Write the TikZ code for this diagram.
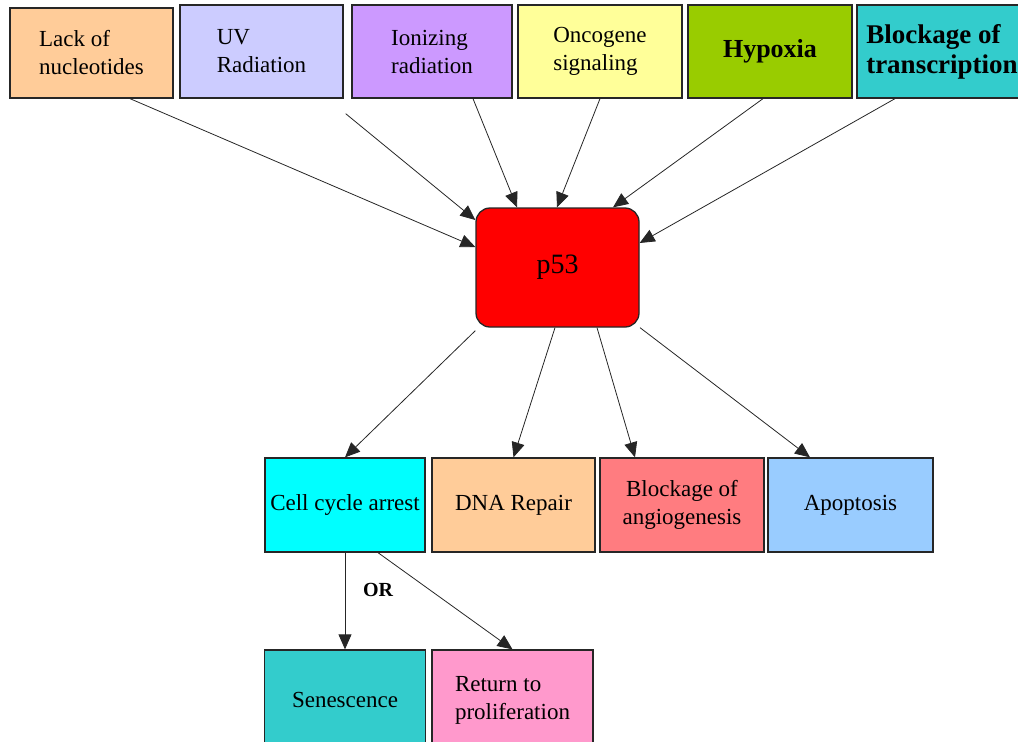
\documentclass[tikz,border=0pt]{standalone}
\usepackage{fontspec}
\setmainfont{Liberation Serif}
\usetikzlibrary{arrows.meta}
\definecolor{cpeach}{HTML}{FFCC99}
\definecolor{clav}{HTML}{CCCCFF}
\definecolor{cpurple}{HTML}{CC99FF}
\definecolor{cyellow}{HTML}{FFFF99}
\definecolor{cgreen}{HTML}{99CC00}
\definecolor{cteal}{HTML}{33CCCC}
\definecolor{cred}{HTML}{FF0000}
\definecolor{ccyan}{HTML}{00FFFF}
\definecolor{csalmon}{HTML}{FF7C80}
\definecolor{cblue}{HTML}{99CCFF}
\definecolor{cpink}{HTML}{FF99CC}
\begin{document}
\begin{tikzpicture}[x=1pt,y=-1pt,
  box/.style={draw=black!85, line width=1.3pt, inner sep=0pt, align=left,
    font=\fontsize{23}{28}\selectfont},
  topbox/.style={box, minimum height=93pt},
  midbox/.style={box, minimum height=94pt, align=center},
  arr/.style={draw=black!85, line width=0.8pt, -{Triangle[length=15pt,width=13pt]}},
  lbl/.style={font=\bfseries\fontsize{20}{22}\selectfont}]
\useasboundingbox (0,0) rectangle (1018,742);
\clip (0,0) rectangle (1018,742);
% top row
\node[topbox, fill=cpeach, minimum width=163pt, minimum height=90pt] (lack) at (91.5,53) {Lack of\\nucleotides};
\node[topbox, fill=clav, minimum width=163pt] (uv) at (261.5,51.5) {UV\\Radiation};
\node[topbox, fill=cpurple, minimum width=160pt] (ion) at (432,51.5) {Ionizing\\radiation};
\node[topbox, fill=cyellow, minimum width=164pt] (onc) at (600,51.5) {Oncogene\\signaling};
\node[topbox, fill=cgreen, minimum width=164pt, font=\bfseries\fontsize{26}{28}\selectfont] (hyp) at (770,51.5) {Hypoxia};
\node[topbox, fill=cteal, minimum width=170pt, font=\bfseries\fontsize{27}{30}\selectfont, align=left] (blk) at (942,51.5) {Blockage of\\transcription};
% p53
\node[draw=black!85, line width=1.3pt, fill=cred, rounded corners=14pt, minimum width=163pt, minimum height=119pt, inner sep=0pt, font=\fontsize{28}{30}\selectfont] (p53) at (557.5,267.5) {p53};
% middle row
\node[midbox, fill=ccyan, minimum width=160pt] (cca) at (345,505) {Cell cycle arrest};
\node[midbox, fill=cpeach, minimum width=163pt] (dna) at (513.5,505) {DNA Repair};
\node[midbox, fill=csalmon, minimum width=164pt] (ang) at (682,505) {Blockage of\\angiogenesis};
\node[midbox, fill=cblue, minimum width=165pt] (apo) at (850.5,505) {Apoptosis};
% bottom row
\node[box, fill=cteal, minimum width=161pt, minimum height=100pt] (sen) at (345,700) {Senescence};
\node[box, fill=cpink, minimum width=161pt, minimum height=100pt] (ret) at (512.5,700) {Return to\\proliferation};
% inputs to p53
\draw[arr] ([xshift=38.5pt]lack.south) -- ([yshift=20.5pt]p53.west);
\draw[arr] ([shift={(2pt,-15pt)}]uv.south east) -- ([yshift=47.5pt]p53.west);
\draw[arr] ([xshift=41pt]ion.south) -- ([xshift=-40.5pt]p53.north);
\draw[arr] (onc.south) -- ([xshift=-0.5pt]p53.north);
\draw[arr] ([xshift=-7pt]hyp.south) -- ([xshift=55.5pt]p53.north);
\draw[arr] ([xshift=-47pt]blk.south) -- ([yshift=24.5pt]p53.east);
% outputs from p53
\draw[arr] ([yshift=-3pt]p53.south west) -- (cca.north);
\draw[arr] ([xshift=-2.5pt]p53.south) -- (dna.north);
\draw[arr] ([xshift=39.5pt]p53.south) -- ([xshift=-47pt]ang.north);
\draw[arr] ([xshift=82.5pt]p53.south) -- ([xshift=-40.5pt]apo.north);
% cell cycle arrest outcomes
\draw[arr] (cca.south) -- (sen.north);
\draw[arr] ([xshift=33pt]cca.south) -- (ret.north);
\node[lbl] (or) at (378,590) {OR};
\end{tikzpicture}
\end{document}
